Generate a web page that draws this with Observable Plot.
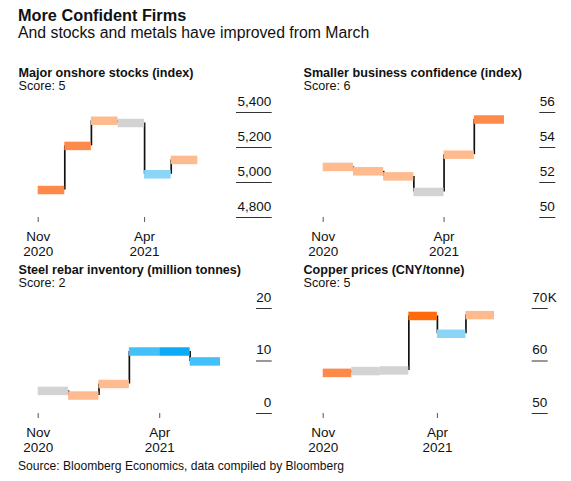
<!DOCTYPE html>
<html>
<head>
<meta charset="utf-8">
<script src="https://cdn.jsdelivr.net/npm/d3@7"></script>
<script src="https://cdn.jsdelivr.net/npm/@observablehq/plot@0.6"></script>
<style>
  html, body { margin: 0; padding: 0; background: #fff; }
  body { width: 571px; height: 481px; position: relative; overflow: hidden;
         font-family: "Liberation Sans", Arial, Helvetica, sans-serif; color: #111; }
  .t { position: absolute; line-height: 1; white-space: nowrap; }
  #title { left: 18px; top: 7px; font-size: 16.3px; font-weight: bold; }
  #subtitle { left: 18px; top: 25.4px; font-size: 15.8px; }
  #source { left: 18px; top: 459.8px; font-size: 12.1px; }
  .ptitle { font-size: 12.6px; font-weight: bold; }
  .pscore { font-size: 12.6px; }
  .chart { position: absolute; }
</style>
</head>
<body>
<div id="title" class="t">More Confident Firms</div>
<div id="subtitle" class="t">And stocks and metals have improved from March</div>
<div id="source" class="t">Source: Bloomberg Economics, data compiled by Bloomberg</div>
<script>
// ---- data ----
const months = ["Nov", "Dec", "Jan", "Feb", "Mar", "Apr"];
const xTickIndex = [0, 4];
const xTickLabels = ["Nov\n2020", "Apr\n2021"];

// signal: +3 strong improvement ... -3 strong deterioration
const signalDomain = [3, 2, 1, 0, -1, -2, -3];
const signalColors = ["#ff6a0a", "#fd8a4b", "#fdbb8f", "#d3d3d3", "#8ad5f8", "#43c0f7", "#0babf5"];

const stocksTitle = "Major onshore stocks (index)";
const stocksScore = "Score: 5";
const stocksValues = [4957, 5209, 5353, 5340, 5047, 5129];
const stocksSignals = [2, 2, 1, 0, -1, 1];
const stocksTicks = [4800, 5000, 5200, 5400];

const confTitle = "Smaller business confidence (index)";
const confScore = "Score: 6";
const confValues = [52.89, 52.64, 52.35, 51.46, 53.59, 55.6];
const confSignals = [1, 1, 1, 0, 1, 2];
const confTicks = [50, 52, 54, 56];

const rebarTitle = "Steel rebar inventory (million tonnes)";
const rebarScore = "Score: 2";
const rebarValues = [4.3, 3.42, 5.62, 11.81, 11.81, 9.92];
const rebarSignals = [0, 1, 1, -2, -3, -2];
const rebarTicks = [0, 10, 20];

const copperTitle = "Copper prices (CNY/tonne)";
const copperScore = "Score: 5";
const copperValues = [57.74, 58.08, 58.2, 68.58, 65.19, 68.74];
const copperSignals = [2, 0, 0, 3, -1, 1];
const copperTicks = [50, 60, 70];
const copperTickSuffix = "K";

// ---- drawing ----
const FONT = '"Liberation Sans", Arial, Helvetica, sans-serif';
const xLabelMap = new Map(xTickIndex.map((d, k) => [d, xTickLabels[k]]));

function panel(cfg) {
  const {title, score, values, signals, ticks, left, top, xEnd, marginRight, tickSize, suffix} = cfg;
  const header = document.createElement("div");
  header.className = "t ptitle";
  header.style.left = (left + 18.5) + "px";
  header.style.top = (top + 66.8) + "px";
  header.textContent = title;
  document.body.appendChild(header);
  const sc = document.createElement("div");
  sc.className = "t pscore";
  sc.style.left = (left + 18.5) + "px";
  sc.style.top = (top + 80.1) + "px";
  sc.textContent = score;
  document.body.appendChild(sc);

  const bars = values.map((v, i) => ({i, v, s: signals[i]}));
  const links = values.slice(1).map((v, i) => ({i: i + 1, a: values[i], b: v}));

  const marks = [
    Plot.axisX(xTickIndex, {
      tickSize: 5, tickPadding: 8, lineHeight: 1.12, label: null,
      tickFormat: d => xLabelMap.get(d), stroke: "#555", fill: "#111"
    }),
    // tick lines of the right-hand axis
    Plot.axisY(ticks, {
      anchor: "right", tickSize, tickFormat: () => "", label: null, stroke: "#333"
    }),
    // tick labels sitting above the tick lines
    Plot.axisY(ticks, {
      anchor: "right", tickSize: 0, tickPadding: tickSize, textAnchor: "end", label: null,
      dy: -11, fill: "#111"
    }),
    Plot.ruleX(links, {x: "i", y1: "a", y2: "b", stroke: "#111", strokeWidth: 1.7}),
    Plot.ruleY(bars, {x1: "i", x2: d => d.i + 1, y: "v", stroke: "s", strokeWidth: 8.5})
  ];
  if (suffix) {
    marks.push(Plot.text([d3.max(ticks)], {
      y: d => d, text: () => suffix, frameAnchor: "right", dx: tickSize + 0.5,
      textAnchor: "start", dy: -11, fill: "#111"
    }));
  }
  const chart = Plot.plot({
    width: 285, height: 170,
    marginTop: 20, marginBottom: 45, marginLeft: 37.7, marginRight,
    x: {domain: [0, values.length], range: [37.7, xEnd], axis: null},
    y: {domain: d3.extent(ticks), axis: null},
    color: {type: "ordinal", domain: signalDomain, range: signalColors},
    style: {fontFamily: FONT, fontSize: "13.5px", color: "#111", background: "transparent", overflow: "visible"},
    marks
  });
  chart.classList.add("chart");
  chart.style.left = left + "px";
  chart.style.top = (top + 91.7) + "px";
  document.body.appendChild(chart);
}

panel({title: stocksTitle, score: stocksScore, values: stocksValues, signals: stocksSignals, ticks: stocksTicks,
       left: 0, top: 0, xEnd: 197.3, marginRight: 50, tickSize: 35.7});
panel({title: confTitle, score: confScore, values: confValues, signals: confSignals, ticks: confTicks,
       left: 285, top: 0, xEnd: 219, marginRight: 31.7, tickSize: 16});
panel({title: rebarTitle, score: rebarScore, values: rebarValues, signals: rebarSignals, ticks: rebarTicks,
       left: 0, top: 196.7, xEnd: 220, marginRight: 30, tickSize: 15.7});
panel({title: copperTitle, score: copperScore, values: copperValues, signals: copperSignals, ticks: copperTicks,
       left: 285, top: 196.7, xEnd: 209, marginRight: 39.3, tickSize: 16, suffix: copperTickSuffix});
</script>
</body>
</html>
